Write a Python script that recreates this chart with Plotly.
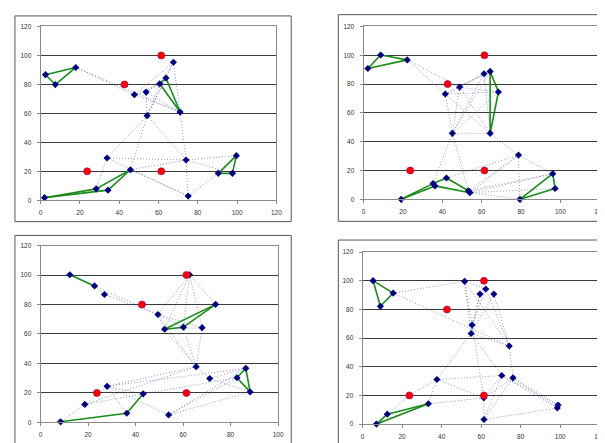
import plotly.graph_objects as go

# ---- shared red anchor points ----
RED_X = [23.7, 42.7, 61.4, 61.4]
RED_Y = [20, 80, 100, 20]

# ---- subplot 1 (top-left) ----
P1_X = [2.5, 7.5, 17.9, 47.7, 53.7, 54.2, 60.6, 63.8, 67.6, 71.0,
        33.8, 45.7, 28.3, 34.3, 2.0, 74.0, 75.1, 90.4, 97.6, 99.6]
P1_Y = [86.7, 79.9, 91.7, 72.9, 74.7, 58.4, 80.4, 84.4, 95.3, 60.9,
        29.2, 21.1, 7.9, 7.0, 1.8, 27.8, 2.9, 18.6, 18.6, 30.8]
P1_GREEN = [(0, 2), (2, 1), (1, 0), (6, 7), (7, 9), (9, 6), (14, 12), (14, 13),
            (12, 11), (13, 11), (17, 18), (18, 19), (19, 17)]
P1_DOTTED = [(2, 3), (2, 9), (3, 4), (3, 6), (3, 9), (4, 6), (4, 7), (4, 9), (3, 8),
             (5, 6), (5, 7), (5, 8), (8, 9), (6, 8), (9, 15), (5, 15), (5, 10), (5, 11),
             (10, 12), (10, 15), (10, 16), (11, 15), (11, 16), (15, 16), (15, 18),
             (15, 19), (16, 17), (4, 5)]

# ---- subplot 2 (top-right) ----
P2_X = [2.2, 8.7, 22.2, 41.5, 48.8, 61.2, 64.3, 68.5, 45.1, 64.3,
        78.7, 96.1, 97.3, 79.4, 19.1, 35.3, 36.3, 42.1, 53.3, 54.0]
P2_Y = [90.8, 100.2, 96.8, 73.1, 77.9, 87.2, 88.8, 74.5, 45.8, 45.8,
        30.7, 17.8, 7.5, 0.0, 0.0, 10.9, 9.3, 14.8, 5.9, 4.6]
P2_GREEN = [(0, 1), (1, 2), (2, 0), (6, 7), (7, 9), (9, 6), (14, 15), (14, 16),
            (15, 17), (17, 18), (16, 19), (13, 11), (11, 12), (12, 13)]
P2_DOTTED = [(2, 3), (2, 4), (3, 4), (3, 5), (4, 5), (4, 6), (3, 7), (4, 7), (3, 8),
             (3, 9), (4, 9), (8, 9), (8, 5), (8, 6), (8, 7), (5, 9), (4, 8), (8, 15),
             (8, 18), (9, 10), (10, 11), (10, 13), (10, 19), (10, 18), (19, 12),
             (18, 11), (19, 13), (17, 10), (19, 11)]

# ---- subplot 3 (bottom-left) ----
P3_X = [12.3, 22.7, 26.9, 49.4, 52.2, 60.1, 68.0, 73.7, 62.7, 65.5,
        71.2, 82.7, 86.4, 88.2, 53.9, 28.0, 18.6, 8.4, 36.3, 43.2]
P3_Y = [100.2, 92.6, 86.8, 73.2, 63.2, 64.6, 64.3, 80.1, 100.2, 37.8,
        29.8, 30.3, 36.7, 20.7, 5.1, 24.5, 12.2, 0.4, 6.2, 19.4]
P3_GREEN = [(0, 1), (4, 7), (5, 7), (4, 5), (17, 18), (18, 19), (11, 12), (12, 13), (11, 13)]
P3_DOTTED = [(1, 2), (1, 3), (2, 3), (3, 4), (3, 5), (3, 6), (8, 3), (8, 4), (8, 5),
             (8, 6), (8, 7), (4, 9), (5, 9), (6, 9), (3, 9), (4, 6), (9, 10), (9, 15),
             (15, 18), (15, 14), (15, 19), (16, 17), (16, 15), (16, 19), (16, 9),
             (19, 11), (14, 11), (14, 12), (14, 13), (10, 12), (10, 13), (15, 12)]

# ---- subplot 4 (bottom-right) ----
P4_X = [5.3, 15.5, 9.0, 51.6, 62.3, 59.4, 66.4, 55.4, 54.9, 74.2,
        70.4, 76.1, 98.9, 98.5, 61.4, 61.3, 37.6, 33.3, 12.5, 7.0]
P4_Y = [100.1, 91.4, 82.2, 99.6, 94.3, 90.7, 90.7, 69.2, 63.2, 54.5,
        33.9, 32.3, 13.3, 11.2, 3.2, 18.3, 31.1, 14.2, 6.9, 0.0]
P4_GREEN = [(0, 1), (1, 2), (2, 0), (19, 18), (18, 17), (19, 17)]
P4_DOTTED = [(1, 3), (1, 9), (3, 4), (3, 7), (3, 8), (3, 9), (4, 7), (5, 7), (5, 8),
             (4, 9), (6, 9), (6, 8), (7, 8), (8, 9), (7, 15), (8, 16), (9, 11), (8, 10),
             (16, 20), (18, 20), (16, 15), (16, 17), (17, 15), (15, 10), (15, 11),
             (14, 11), (14, 10), (14, 13), (14, 15), (10, 12), (11, 13), (10, 13),
             (11, 12), (16, 10)]

X_MAX = [120, 120, 100, 120]

SUBPLOTS = [(P1_X, P1_Y, P1_GREEN, P1_DOTTED),
            (P2_X, P2_Y, P2_GREEN, P2_DOTTED),
            (P3_X, P3_Y, P3_GREEN, P3_DOTTED),
            (P4_X, P4_Y, P4_GREEN, P4_DOTTED)]

W, H = 605, 443
# plot-area pixel boxes (left, right, top, bottom)
AREAS = [(31, 270, 14.7, 191.3), (358.3, 597.7, 14.7, 190.3),
         (31, 271.7, 237.3, 417), (357.3, 597.7, 244, 418.7)]
FRAMES = [(5, 285, 4, 213), (332.7, 604, 2.7, 212.7),
          (5, 285, 227, 440.7), (332.7, 604, 231.7, 441.7)]


def seg(xs, ys, edges):
    ox, oy = [], []
    for a, b in edges:
        ox += [xs[a], xs[b], None]
        oy += [ys[a], ys[b], None]
    return ox, oy


fig = go.Figure()
for i, (bx, by, green, dotted) in enumerate(SUBPLOTS):
    ax = "x" if i == 0 else f"x{i+1}"
    ay = "y" if i == 0 else f"y{i+1}"
    nx = bx + RED_X
    ny = by + RED_Y
    dx, dy = seg(nx, ny, dotted)
    fig.add_trace(go.Scatter(x=dx, y=dy, mode="lines", xaxis=ax, yaxis=ay,
                             line=dict(color="rgba(60,60,150,0.6)", width=0.9, dash="1px,2px"),
                             hoverinfo="skip", showlegend=False))
    gx, gy = seg(nx, ny, green)
    fig.add_trace(go.Scatter(x=gx, y=gy, mode="lines", xaxis=ax, yaxis=ay,
                             line=dict(color="#1a8a1a", width=1.6),
                             hoverinfo="skip", showlegend=False))
    fig.add_trace(go.Scatter(x=bx, y=by, mode="markers", xaxis=ax, yaxis=ay,
                             marker=dict(symbol="diamond", size=5.5, color="#000080"),
                             cliponaxis=False, showlegend=False))
    fig.add_trace(go.Scatter(x=RED_X, y=RED_Y, mode="markers", xaxis=ax, yaxis=ay,
                             marker=dict(symbol="circle", size=7, color="#ff0000",
                                         line=dict(color="#b0005a", width=0.7)),
                             cliponaxis=False, showlegend=False))

layout = dict(width=W, height=H, autosize=False, margin=dict(l=0, r=0, t=0, b=0),
              paper_bgcolor="white", plot_bgcolor="white",
              font=dict(family="Liberation Sans, Arial", size=6.5, color="#333"))
shapes = []
for i, ((l, r, t, b), (fl, fr, ft, fb)) in enumerate(zip(AREAS, FRAMES)):
    sx = "xaxis" if i == 0 else f"xaxis{i+1}"
    sy = "yaxis" if i == 0 else f"yaxis{i+1}"
    yan = "y" if i == 0 else f"y{i+1}"
    xan = "x" if i == 0 else f"x{i+1}"
    layout[sx] = dict(domain=[l / W, r / W], range=[0, X_MAX[i]], dtick=20, tick0=0,
                      anchor=yan, showgrid=False, zeroline=False, showline=True,
                      linecolor="#8a8a8a", linewidth=1, mirror=True,
                      ticks="outside", ticklen=3, tickcolor="#8a8a8a",
                      ticklabelstandoff=3, tickfont=dict(size=6.5, color="#333"))
    layout[sy] = dict(domain=[1 - b / H, 1 - t / H], range=[0, 120], dtick=20, tick0=0,
                      anchor=xan, showgrid=True, gridcolor="#3a3a3a", gridwidth=1,
                      zeroline=False, showline=True, linecolor="#8a8a8a", linewidth=1,
                      mirror=True, ticks="outside", ticklen=3, tickcolor="#8a8a8a",
                      ticklabelstandoff=4, tickfont=dict(size=6.5, color="#333"))
    shapes.append(dict(type="rect", xref="paper", yref="paper",
                       x0=fl / W, x1=fr / W, y0=1 - fb / H, y1=1 - ft / H,
                       line=dict(color="#555", width=1), fillcolor="rgba(0,0,0,0)",
                       layer="below"))
layout["shapes"] = shapes
fig.update_layout(**layout)
fig.write_html("out.html")
